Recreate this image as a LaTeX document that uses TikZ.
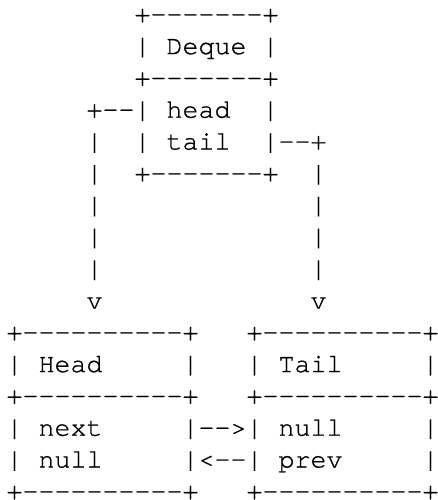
\documentclass[tikz,border=0pt]{standalone}
\usepackage{fontspec}
\setmonofont{texgyrecursor-regular.otf}[FakeBold=0.7]
\begin{document}
\begin{tikzpicture}[
  ascii/.style={anchor=base west,inner sep=0pt,outer sep=0pt,
    font=\ttfamily\fontsize{26.67pt}{31.8pt}\selectfont}]
\fill[white] (0pt,0pt) rectangle (437pt,-500pt);
\useasboundingbox (0pt,0pt) rectangle (437pt,-500pt);
% character grid: x = column, y = text line (baseline)
\begin{scope}[x=16pt,y=-31.8pt,shift={(6.5pt,-22.3pt)}]
  % Deque record
  \node[ascii] (dqtop)   at (8,0) {+-------+};
  \node[ascii] (dqtitle) at (8,1) {| Deque |};
  \node[ascii] (dqmid)   at (8,2) {+-------+};
  \node[ascii] (dqhead)  at (8,3) {| head~~|};
  \node[ascii] (dqtail)  at (8,4) {| tail~~|};
  \node[ascii] (dqbot)   at (8,5) {+-------+};
  % head pointer, going down on the left
  \node[ascii] (hlink)   at (5,3) {+--};
  \foreach \r in {4,...,8} \node[ascii] (hv\r) at (5,\r) {|};
  \node[ascii] (harrow)  at (5,9) {v};
  % tail pointer, going down on the right
  \node[ascii] (tlink)   at (17,4) {--+};
  \foreach \r in {5,...,8} \node[ascii] (tv\r) at (19,\r) {|};
  \node[ascii] (tarrow)  at (19,9) {v};
  % Head node
  \node[ascii] (hdtop)   at (0,10) {+----------+};
  \node[ascii] (hdtitle) at (0,11) {| Head~~~~~|};
  \node[ascii] (hdmid)   at (0,12) {+----------+};
  \node[ascii] (hdnext)  at (0,13) {| next~~~~~|};
  \node[ascii] (hdprev)  at (0,14) {| null~~~~~|};
  \node[ascii] (hdbot)   at (0,15) {+----------+};
  % Tail node
  \node[ascii] (tltop)   at (15,10) {+----------+};
  \node[ascii] (tltitle) at (15,11) {| Tail~~~~~|};
  \node[ascii] (tlmid)   at (15,12) {+----------+};
  \node[ascii] (tlnext)  at (15,13) {| null~~~~~|};
  \node[ascii] (tlprev)  at (15,14) {| prev~~~~~|};
  \node[ascii] (tlbot)   at (15,15) {+----------+};
  % links between the two nodes
  \node[ascii] (fwd)     at (12,13) {-{}->};
  \node[ascii] (back)    at (12,14) {<-{}-};
\end{scope}
\end{tikzpicture}
\end{document}
